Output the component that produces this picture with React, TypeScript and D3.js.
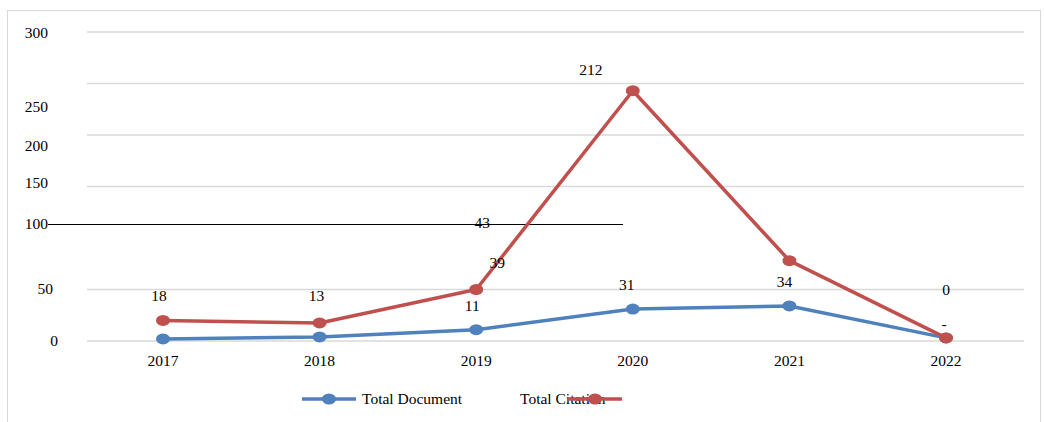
import React from 'react';
import * as d3 from 'd3';

const years = ['2017', '2018', '2019', '2020', '2021', '2022'];
const totalDocument = [2, 4, 11, 31, 34, 3];
const totalCitation = [20, 17.5, 50, 243, 78, 3];

// data labels as they appear on the picture (text, category, height in value units, px shift)
const dataLabels = [
  { text: '18', year: '2017', value: 43.7, dx: -4 },
  { text: '13', year: '2018', value: 43.7, dx: -3 },
  { text: '11', year: '2019', value: 34, dx: -4 },
  { text: '43', year: '2019', value: 114.6, dx: 6 },
  { text: '39', year: '2019', value: 75.7, dx: 21 },
  { text: '212', year: '2020', value: 264, dx: -42 },
  { text: '31', year: '2020', value: 54.4, dx: -6 },
  { text: '34', year: '2021', value: 57.3, dx: -5 },
  { text: '0', year: '2022', value: 49.5, dx: 0 },
  { text: '-', year: '2022', value: 16.5, dx: -2 },
];

const tickLabels = ['300', '250', '200', '150', '100', '50', '0'];
const tickLabelAt = [299.7, 227.5, 190, 153.7, 113.6, 50.5, 0];
const gridValues = [0, 50, 150, 200, 250, 300];

const W = 1044;
const H = 422;
const font = '"Liberation Serif", "Times New Roman", serif';
const blue = '#4f81bd';
const red = '#c0504d';

export default function App() {
  const x = d3.scalePoint<string>().domain(years).range([163, 946]);
  const y = d3.scaleLinear().domain([0, 300]).range([341, 32]);

  const line = d3
    .line<number>()
    .x((_, i) => x(years[i]) as number)
    .y(d => y(d));

  const series = [
    { name: 'Total Document', values: totalDocument, color: blue },
    { name: 'Total Citation', values: totalCitation, color: red },
  ];

  return (
    <svg
      width={W}
      height={H}
      style={{ position: 'absolute', left: 0, top: 0, background: '#fff' }}
      fontFamily={font}
    >
      <rect x={7.5} y={10.5} width={1033} height={430} fill="#fff" stroke="#d9d9d9" />

      {gridValues.map(v => (
        <line key={v} x1={87} x2={1024} y1={y(v)} y2={y(v)} stroke="#d9d9d9" strokeWidth={1.3} />
      ))}

      <line
        x1={48}
        x2={623}
        y1={Math.round(y(113.6)) + 0.5}
        y2={Math.round(y(113.6)) + 0.5}
        stroke="#000"
        strokeWidth={1}
        shapeRendering="crispEdges"
      />

      {tickLabels.map((t, i) => (
        <text
          key={t}
          x={t === '0' ? 58 : t === '50' ? 53 : 48}
          y={y(tickLabelAt[i])}
          dy="0.35em"
          textAnchor="end"
          fontSize={15.5}
          fill="#000"
        >
          {t}
        </text>
      ))}

      {years.map(yr => (
        <text key={yr} x={x(yr)} y={366} textAnchor="middle" fontSize={15.5} fill="#000">
          {yr}
        </text>
      ))}

      {series.map(s => (
        <g key={s.name}>
          <path d={line(s.values) || ''} fill="none" stroke={s.color} strokeWidth={3.5} strokeLinejoin="round" />
          {s.values.map((v, i) => (
            <ellipse key={i} cx={x(years[i])} cy={y(v)} rx={7} ry={5.5} fill={s.color} />
          ))}
        </g>
      ))}

      {dataLabels.map((l, i) => (
        <text
          key={i}
          x={(x(l.year) as number) + l.dx}
          y={y(l.value)}
          dy="0.35em"
          textAnchor="middle"
          fontSize={15.5}
          fill="#000"
        >
          {l.text}
        </text>
      ))}

      {/* legend */}
      <g>
        <line x1={302} x2={356} y1={399} y2={399} stroke={blue} strokeWidth={3.5} />
        <ellipse cx={329} cy={399} rx={7} ry={5.5} fill={blue} />
        <text x={362} y={399} dy="0.35em" fontSize={15.5} fill="#000">Total Document</text>
        <text x={520} y={399} dy="0.35em" fontSize={15.5} fill="#000">Total Citation</text>
        <line x1={567} x2={622} y1={399} y2={399} stroke={red} strokeWidth={3.5} />
        <ellipse cx={595} cy={399} rx={7} ry={5.5} fill={red} />
      </g>
    </svg>
  );
}
